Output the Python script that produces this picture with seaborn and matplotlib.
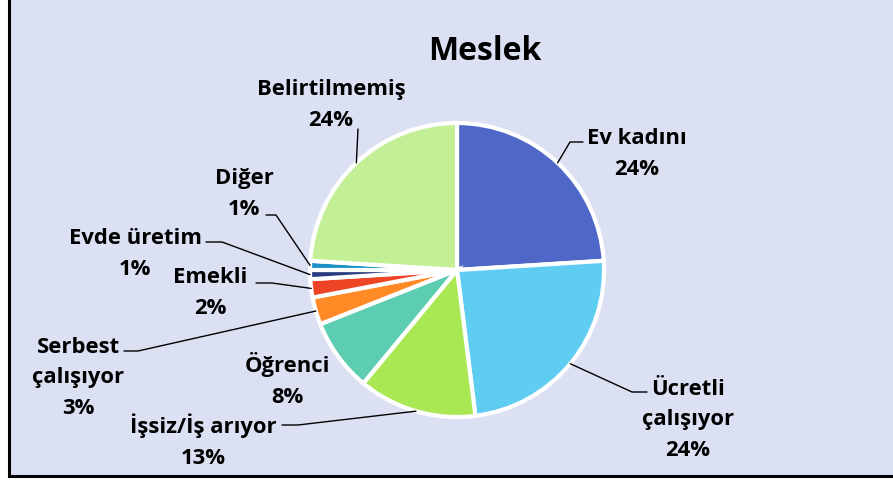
import numpy as np
import matplotlib.pyplot as plt
import seaborn as sns
from matplotlib.patches import Rectangle

sns.set_style("white")
plt.rcParams['font.family'] = ['Open Sans', 'DejaVu Sans']

# data
categories = ['Ev kadını', 'Ücretli\nçalışıyor', 'İşsiz/İş arıyor', 'Öğrenci',
              'Serbest\nçalışıyor', 'Emekli', 'Evde üretim', 'Diğer', 'Belirtilmemiş']
values = [24, 24, 13, 8, 3, 2, 1, 1, 24]
colors = ['#4F67C7', '#5FCDF2', '#A9E853', '#5DCDB2', '#FF8A26',
          '#EE4426', '#283A80', '#1C92C8', '#C3EF96']
explode = [0, 0.05, 0, 0, 0, 0, 0, 0, 0]

W, H = 893, 481
BG = '#DCE0F3'

# layout in image pixels: label centre, leader elbow start/end (None = no leader)
label_pos = [(637, 154), (688, 420), (203, 441), (287, 380), (78, 378),
             (210, 293), (135, 254), (244, 194), (331, 105)]
elbows = [((583, 143), (570, 143)), ((647, 393), (632, 393)),
          ((282, 426), (298, 426)), None, ((124, 352), (138, 352)),
          ((256, 284), (272, 284)), ((206, 243), (222, 243)),
          ((266, 216), (276, 216)), ((358, 130), (358, 130))]

cx, cy, r = 457, H - 271, 147

fig = plt.figure(figsize=(W / 100, H / 100), dpi=100, facecolor='white')
fig.patches.append(Rectangle((9, 4), W + 10, H + 10, transform=None,
                             facecolor=BG, edgecolor='black', lw=2.2, zorder=-1))
ax = fig.add_axes([0, 0, 1, 1])
ax.set_facecolor('none')

wedges, _ = ax.pie(values, colors=colors, startangle=90, counterclock=False,
                   explode=explode, center=(cx, cy), radius=r,
                   wedgeprops=dict(edgecolor='white', linewidth=3))
ax.set_xlim(0, W)
ax.set_ylim(0, H)
ax.set_aspect('equal')
ax.axis('off')

fs = 15.8
for i, (w, name, v) in enumerate(zip(wedges, categories, values)):
    lx, ly = label_pos[i]
    ax.text(lx, H - ly, f"{name}\n{v}%", ha='center', va='center',
            fontsize=fs, fontweight='bold', linespacing=1.62, color='black')
    if elbows[i] is None:
        continue
    ang = np.deg2rad((w.theta1 + w.theta2) / 2)
    wx, wy = w.center
    px, py = wx + r * np.cos(ang), wy + r * np.sin(ang)
    (x0, y0), (x1, y1) = elbows[i]
    ax.plot([x0, x1, px], [H - y0, H - y1, py], color='black', lw=1, zorder=5)

ax.text(485, H - 52, 'Meslek', ha='center', va='center',
        fontsize=23, fontweight='bold', color='black')

fig.savefig('out.png', dpi=100, facecolor='white')
